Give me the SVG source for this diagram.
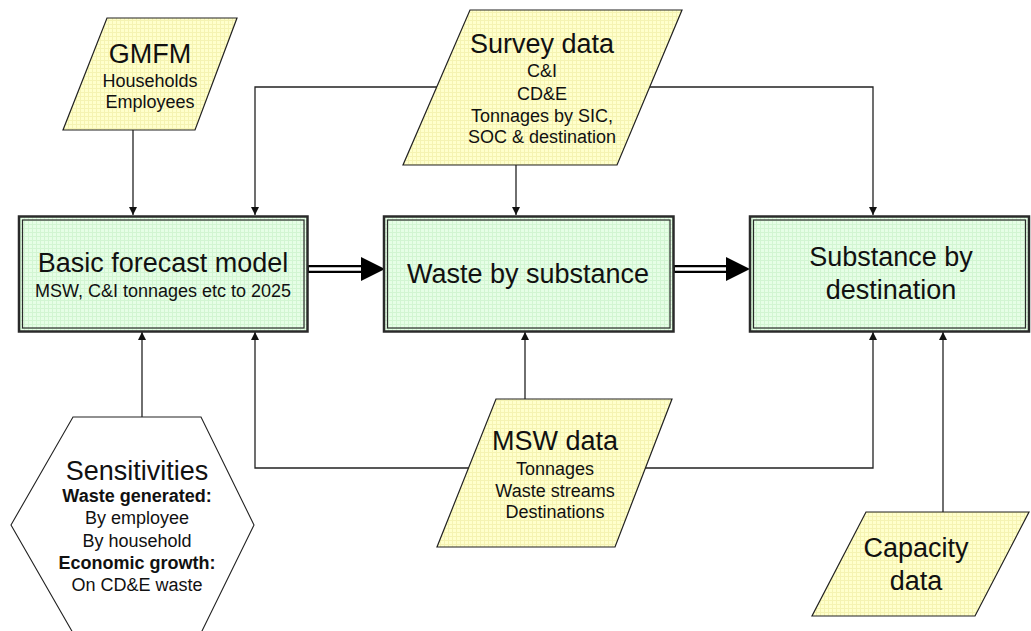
<svg xmlns="http://www.w3.org/2000/svg" width="1031" height="631" viewBox="0 0 1031 631">
  <defs>
    <!-- fine graph-paper fills -->
    <pattern id="gridGreen" width="4" height="4" patternUnits="userSpaceOnUse">
      <rect width="4" height="4" fill="#e6fee6"/>
      <path d="M0 0.5H4M0.5 0V4" stroke="#d2f5d2" stroke-width="1"/>
    </pattern>
    <pattern id="gridYellow" width="4" height="4" patternUnits="userSpaceOnUse">
      <rect width="4" height="4" fill="#ffffcc"/>
      <path d="M0 0.5H4M0.5 0V4" stroke="#f5f3b2" stroke-width="1"/>
    </pattern>
    <marker id="arrow" viewBox="0 0 8 8" refX="8" refY="4" markerWidth="8" markerHeight="8" markerUnits="userSpaceOnUse" orient="auto">
      <path d="M0 0L8 4L0 8Z" fill="#111"/>
    </marker>
  </defs>
  <style>
    .conn { fill: none; stroke: #222; stroke-width: 1.3; marker-end: url(#arrow); }
    .data { fill: url(#gridYellow); stroke: #222; stroke-width: 1.2; }
    .proc { fill: url(#gridGreen); stroke: #2a2a2a; stroke-width: 2.5; }
    .procIn { fill: none; stroke: #2a2a2a; stroke-width: 1.2; }
    .hex { fill: #ffffff; stroke: #222; stroke-width: 1.1; }
    text { font-family: "Liberation Sans", Arial, sans-serif; fill: #111; text-anchor: middle; }
    .big { font-size: 27px; }
    .small { font-size: 18px; }
    .bold { font-size: 18px; font-weight: bold; }
    .dblOuter { stroke: #000; stroke-width: 8; fill: none; }
    .dblInner { stroke: #fff; stroke-width: 3.4; fill: none; }
  </style>

  <rect width="1031" height="631" fill="#ffffff"/>

  <!-- connectors -->
  <g id="connectors">
    <path class="conn" d="M133 130V215"/>
    <path class="conn" d="M437 87H255V215"/>
    <path class="conn" d="M648 87H873V215"/>
    <path class="conn" d="M516 165V215"/>
    <path class="conn" d="M142 417V332"/>
    <path class="conn" d="M471 468H255V332"/>
    <path class="conn" d="M644 468H873V332"/>
    <path class="conn" d="M525 399V332"/>
    <path class="conn" d="M943 512V332"/>
    <!-- double-line flow arrows between process boxes -->
    <path class="dblOuter" d="M308 269H363"/>
    <path class="dblInner" d="M309 269H363"/>
    <path d="M361 257L385 269L361 281Z" fill="#000"/>
    <path class="dblOuter" d="M674 269H728"/>
    <path class="dblInner" d="M675 269H728"/>
    <path d="M726 257L750 269L726 281Z" fill="#000"/>
  </g>

  <g id="gmfm">
    <polygon class="data" points="107,18 237,18 195,130 63,130"/>
    <text class="big" x="150" y="63">GMFM</text>
    <text class="small" x="150" y="87">Households</text>
    <text class="small" x="150" y="108">Employees</text>
  </g>

  <g id="survey-data">
    <polygon class="data" points="470,10 682,10 617,165 403,165"/>
    <text class="big" x="542" y="53">Survey data</text>
    <text class="small" x="542" y="77">C&amp;I</text>
    <text class="small" x="542" y="100">CD&amp;E</text>
    <text class="small" x="542" y="122">Tonnages by SIC,</text>
    <text class="small" x="542" y="143">SOC &amp; destination</text>
  </g>

  <g id="basic-forecast-model">
    <rect class="proc" x="19" y="216.5" width="288.5" height="115"/>
    <rect class="procIn" x="22.5" y="220" width="281.5" height="108"/>
    <text class="big" x="163" y="272">Basic forecast model</text>
    <text class="small" x="163" y="297">MSW, C&amp;I tonnages etc to 2025</text>
  </g>

  <g id="waste-by-substance">
    <rect class="proc" x="384" y="216.5" width="289.5" height="115"/>
    <rect class="procIn" x="387.5" y="220" width="282.5" height="108"/>
    <text class="big" x="528" y="283">Waste by substance</text>
  </g>

  <g id="substance-by-destination">
    <rect class="proc" x="750" y="216.5" width="279" height="115"/>
    <rect class="procIn" x="753.5" y="220" width="272" height="108"/>
    <text class="big" x="891" y="266">Substance by</text>
    <text class="big" x="891" y="299">destination</text>
  </g>

  <g id="sensitivities">
    <polygon class="hex" points="73,417 201,417 254,525 201,633 73,633 11,525"/>
    <text class="big" x="137" y="480">Sensitivities</text>
    <text class="bold" x="137" y="502">Waste generated:</text>
    <text class="small" x="137" y="524">By employee</text>
    <text class="small" x="137" y="546.5">By household</text>
    <text class="bold" x="137" y="569">Economic growth:</text>
    <text class="small" x="137" y="591">On CD&amp;E waste</text>
  </g>

  <g id="msw-data">
    <polygon class="data" points="496,399 672,399 615,547 437,547"/>
    <text class="big" x="555" y="450">MSW data</text>
    <text class="small" x="555" y="475">Tonnages</text>
    <text class="small" x="555" y="497">Waste streams</text>
    <text class="small" x="555" y="518">Destinations</text>
  </g>

  <g id="capacity-data">
    <polygon class="data" points="866,512 1029,512 975,616 812,616"/>
    <text class="big" x="916" y="557">Capacity</text>
    <text class="big" x="916" y="590">data</text>
  </g>
</svg>
